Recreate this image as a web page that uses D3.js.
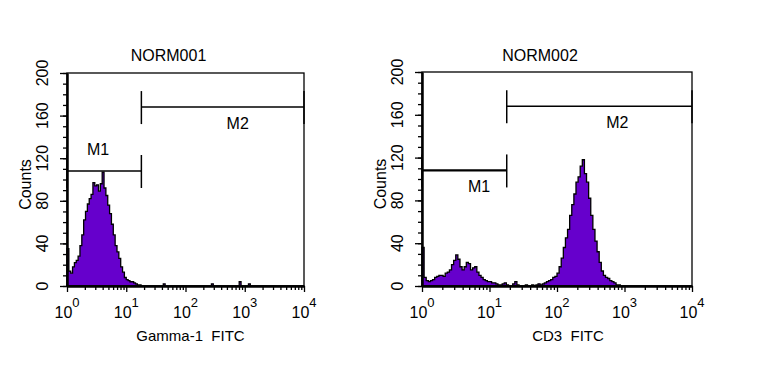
<!DOCTYPE html>
<html>
<head>
<meta charset="utf-8">
<script src="https://cdn.jsdelivr.net/npm/d3@7"></script>
<style>
  html, body { margin: 0; padding: 0; background: #fff; }
  svg { display: block; }
  text { font-family: "Liberation Sans", Arial, sans-serif; fill: #000; }
</style>
</head>
<body>
<svg id="chart" width="760" height="365"></svg>
<script>
// ---------------- data ----------------
const titles = ["NORM001", "NORM002"];
const xLabels = ["Gamma-1  FITC", "CD3  FITC"];
const decadeTicks = [1, 10, 100, 1000, 10000];
const decadeExponents = ["0", "1", "2", "3", "4"];
const yTicks = [0, 40, 80, 120, 160, 200];
const channelsPerDecade = 32;            // 128 channels over 4 decades
const markerNames = ["M1", "M2"];
const markerRanges = [[1, 18], [18, 10000]];
const markerLevels = [108, 168];

// counts per channel, NORM001 (Gamma-1 FITC)
const counts1 = [
  35,14,12,18,22,24,28,38,48,62,70,77,82,86,97,94,
  95,89,96,107,92,85,76,68,58,48,38,32,26,18,13,8,
  6,5,4,4,3,2,1,1,0,0,0,0,0,0,0,0,
  0,0,0,0,2,0,0,0,0,0,0,0,0,0,0,0,
  0,0,0,0,0,0,0,0,0,0,0,0,0,0,2,0,
  0,0,0,0,0,0,0,0,0,0,0,0,0,4,0,0,
  0,0,2,0,0,0,0,0,0,0,0,0,0,0,0,0,
  0,0,0,0,0,0,0,0,0,0,0,0,0,0,0,0
];
// counts per channel, NORM002 (CD3 FITC)
const counts2 = [
  36,8,5,4,5,6,8,9,10,10,9,12,13,15,20,24,
  29,25,18,15,18,22,21,15,17,18,13,10,8,6,5,4,
  4,3,3,2,1,1,2,3,1,0,0,2,4,1,0,0,
  0,1,0,0,1,0,1,2,1,2,3,4,5,6,8,9,
  12,18,26,36,45,53,66,76,86,97,102,112,118,105,97,82,
  66,53,42,32,22,14,10,8,7,5,4,3,1,1,0,0,
  0,0,0,0,0,0,0,0,0,0,0,0,0,0,0,0,
  0,0,0,0,0,0,0,0,0,0,0,0,0,0,0,0
];
const allCounts = [counts1, counts2];

// ---------------- layout ----------------
const layout = [
  { left: 67,  right: 304, top: 73, bottom: 286, xLabelShift: 5,  m1Width: 1.5,
    m1Label: { dx: 31, dy: -16 }, m2Label: { dx: 15, dy: 22 } },
  { left: 422, right: 692, top: 72, bottom: 286, xLabelShift: 11, m1Width: 2.2,
    m1Label: { dx: 57, dy: 22 }, m2Label: { dx: 18, dy: 22 } }
];
const fillColor = "#6600cc";

const svg = d3.select("#chart");

layout.forEach((L, p) => {
  const g = svg.append("g");
  const x = d3.scaleLog().domain([1, 10000]).range([L.left, L.right]);
  const y = d3.scaleLinear().domain([0, 200]).range([L.bottom, L.top]);
  const counts = allCounts[p];

  // histogram (step area)
  const pts = counts.map((c, i) => ({ v: Math.pow(10, i / channelsPerDecade), c }));
  pts.push({ v: 10000, c: counts[counts.length - 1] });
  const area = d3.area()
    .x(d => x(d.v)).y0(y(0)).y1(d => y(d.c))
    .curve(d3.curveStepAfter);
  g.append("path").datum(pts)
    .attr("d", area)
    .attr("fill", fillColor)
    .attr("stroke", "#000")
    .attr("stroke-width", 1.3)
    .attr("stroke-linejoin", "miter");

  // frame
  g.append("rect")
    .attr("x", L.left).attr("y", L.top)
    .attr("width", L.right - L.left).attr("height", L.bottom - L.top)
    .attr("fill", "none").attr("stroke", "#000").attr("stroke-width", 1.3);

  // y axis minor + major ticks
  const yMinor = d3.range(0, 201, 10);
  const yAxMinor = d3.axisLeft(y).tickValues(yMinor).tickSize(4).tickSizeOuter(0).tickFormat("");
  const yAxMajor = d3.axisLeft(y).tickValues(yTicks).tickSize(7).tickSizeOuter(0).tickFormat("");
  [yAxMinor, yAxMajor].forEach(ax => {
    const a = g.append("g").attr("transform", `translate(${L.left},0)`).call(ax);
    a.select(".domain").attr("stroke-width", 2);
    a.selectAll(".tick line").attr("stroke-width", 1.3);
  });

  // x axis minor + major ticks
  const xMinor = [];
  decadeTicks.slice(0, 4).forEach(d => { for (let k = 2; k <= 9; k++) xMinor.push(d * k); });
  const xAxMinor = d3.axisBottom(x).tickValues(xMinor).tickSize(4).tickSizeOuter(0).tickFormat("");
  const xAxMajor = d3.axisBottom(x).tickValues(decadeTicks).tickSize(6).tickSizeOuter(0).tickFormat("");
  [xAxMinor, xAxMajor].forEach(ax => {
    const a = g.append("g").attr("transform", `translate(0,${L.bottom})`).call(ax);
    a.select(".domain").attr("stroke-width", 2);
    a.selectAll(".tick line").attr("stroke-width", 1.3);
  });

  // y tick labels (rotated)
  g.selectAll(".ylab").data(yTicks).enter().append("text")
    .attr("transform", d => `translate(${L.left - 19},${y(d)}) rotate(-90)`)
    .attr("text-anchor", "middle")
    .style("font-size", "16px")
    .text(d => d);

  // x tick labels 10^n
  decadeTicks.forEach((d, i) => {
    const t = g.append("text")
      .attr("x", x(d)).attr("y", L.bottom + 32)
      .attr("text-anchor", "middle")
      .style("font-size", "16px");
    t.append("tspan").text("10");
    t.append("tspan").attr("dy", -11).style("font-size", "13px").text(decadeExponents[i]);
  });

  // titles & axis labels
  g.append("text")
    .attr("x", (L.left + L.right) / 2 - 17).attr("y", 61)
    .attr("text-anchor", "middle").style("font-size", "16px")
    .text(titles[p]);
  g.append("text")
    .attr("x", (L.left + L.right) / 2 + L.xLabelShift).attr("y", 341)
    .attr("text-anchor", "middle").style("font-size", "15px")
    .style("white-space", "pre").attr("xml:space", "preserve")
    .text(xLabels[p]);
  g.append("text")
    .attr("transform", `translate(${L.left - 36},${(L.top + L.bottom) / 2 + 5}) rotate(-90)`)
    .attr("text-anchor", "middle").style("font-size", "16px")
    .text("Counts");

  // markers
  markerRanges.forEach((r, m) => {
    const yy = y(markerLevels[m]);
    const x0 = x(r[0]), x1 = x(r[1]);
    const sw = m === 0 ? L.m1Width : 1.5;
    g.append("line").attr("x1", x0).attr("x2", x1).attr("y1", yy).attr("y2", yy)
      .attr("stroke", "#000").attr("stroke-width", sw);
    [x0, x1].forEach(xx => {
      g.append("line").attr("x1", xx).attr("x2", xx).attr("y1", yy - 16).attr("y2", yy + 17)
        .attr("stroke", "#000").attr("stroke-width", 1.5);
    });
    const lab = m === 0 ? L.m1Label : L.m2Label;
    const cx = m === 0 ? x0 + lab.dx : (x0 + x1) / 2 + lab.dx;
    g.append("text")
      .attr("x", cx).attr("y", yy + lab.dy)
      .attr("text-anchor", "middle").style("font-size", "16px")
      .text(markerNames[m]);
  });
});
</script>
</body>
</html>
